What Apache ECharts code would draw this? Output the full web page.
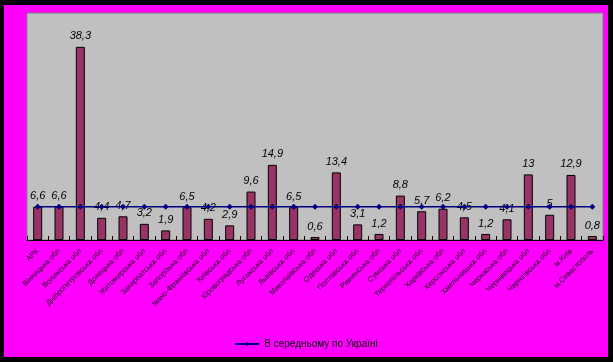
<!DOCTYPE html>
<html>
<head>
<meta charset="utf-8">
<script src="https://cdn.jsdelivr.net/npm/echarts@6/dist/echarts.min.js"></script>
<style>
html,body{margin:0;padding:0;background:#000;}
#frame{position:absolute;left:0;top:0;width:613px;height:362px;background:#000;}
#chart{position:absolute;left:4px;top:5px;width:604px;height:352px;}
</style>
</head>
<body>
<div id="frame"><div id="chart"></div></div>
<script>
const categories = ['АРК','Вінницька обл','Волинська обл','Дніпропетровська обл','Донецька обл','Житомирська обл','Закарпатська обл','Запорізька обл','Івано-Франківська обл','Київська обл','Кіровоградська обл','Луганська обл','Львівська обл','Миколаївська обл','Одеська обл','Полтавська обл','Рівненська обл','Сумська обл','Тернопільська обл','Харківська обл','Херсонська обл','Хмельницька обл','Черкаська обл','Чернівецька обл','Чернігівська обл','м.Київ','м.Севастополь'];
const values = [6.6,6.6,38.3,4.4,4.7,3.2,1.9,6.5,4.2,2.9,9.6,14.9,6.5,0.6,13.4,3.1,1.2,8.8,5.7,6.2,4.5,1.2,4.1,13,5,12.9,0.8];
const average = [6.6,6.6,6.6,6.6,6.6,6.6,6.6,6.6,6.6,6.6,6.6,6.6,6.6,6.6,6.6,6.6,6.6,6.6,6.6,6.6,6.6,6.6,6.6,6.6,6.6,6.6,6.6];
const averageName = 'В середньому по Україні';

const chart = echarts.init(document.getElementById('chart'), null, {renderer:'canvas'});
chart.setOption({
  animation:false,
  backgroundColor:'#FF00FF',
  grid:{left:23,right:5,top:8,bottom:117,show:true,backgroundColor:'#C0C0C0',borderColor:'#808080',borderWidth:1,containLabel:false},
  legend:{data:[averageName],bottom:3,left:'center',itemWidth:24,itemHeight:6,
    textStyle:{fontFamily:'Arial, Liberation Sans',fontSize:10,color:'#000'}},
  xAxis:{type:'category',data:categories,
    axisLine:{lineStyle:{color:'#000',width:1}},
    axisTick:{show:true,alignWithLabel:false,inside:true,length:4,lineStyle:{color:'#000'}},
    axisLabel:{rotate:45,interval:0,fontSize:7.5,fontFamily:'Arial, Liberation Sans',color:'#111',margin:10}},
  yAxis:{type:'value',min:0,max:45,show:false,splitLine:{show:false}},
  series:[
    {type:'bar',data:values,barWidth:9,
      itemStyle:{color:'#993366',borderColor:'#000',borderWidth:1},
      label:{show:true,position:'top',distance:5,fontStyle:'italic',fontSize:11,fontFamily:'Arial, Liberation Sans',color:'#000',
        formatter:p=>String(p.value).replace('.',',')}},
    {type:'line',name:averageName,data:average,
      lineStyle:{color:'#000080',width:1.5},itemStyle:{color:'#000080'},
      symbol:'diamond',symbolSize:6,z:5}
  ]
});
</script>
</body>
</html>
